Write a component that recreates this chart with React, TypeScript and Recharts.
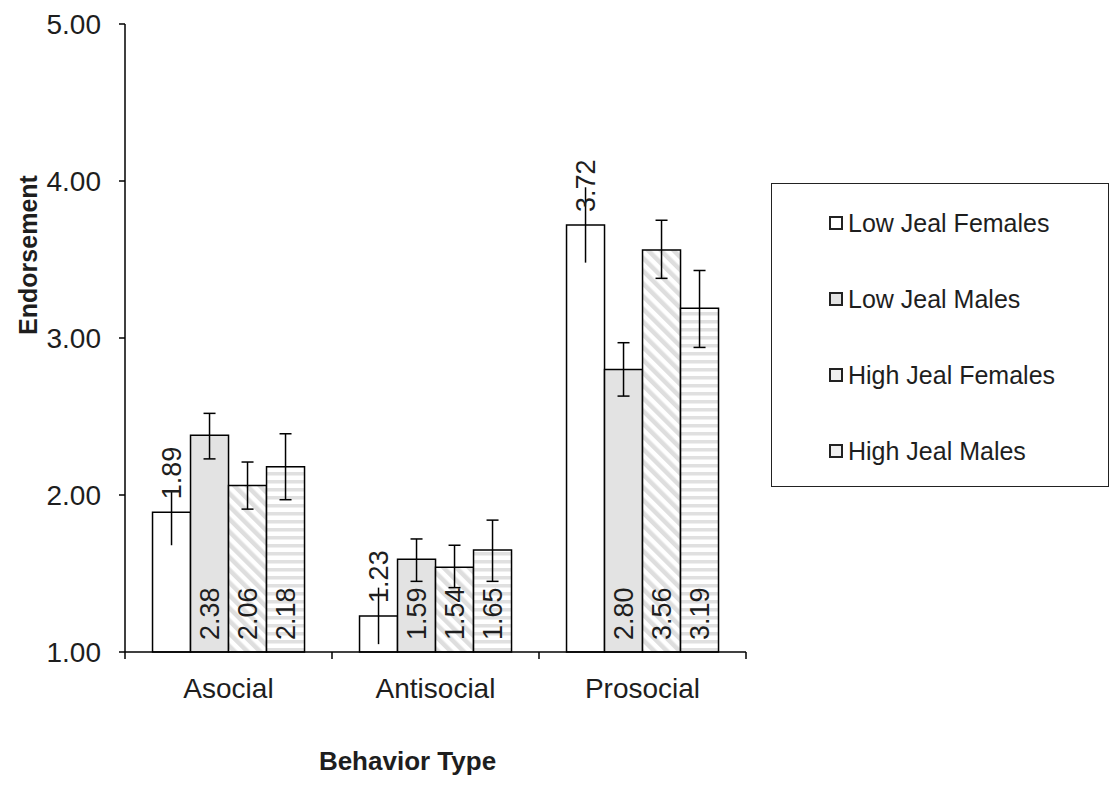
import { BarChart, Bar, XAxis, YAxis, ErrorBar, LabelList, Label } from "recharts";

const categories = ["Asocial", "Antisocial", "Prosocial"];
const seriesNames = ["Low Jeal Females", "Low Jeal Males", "High Jeal Females", "High Jeal Males"];

const lowJealFemales = [1.89, 1.23, 3.72];
const lowJealMales = [2.38, 1.59, 2.8];
const highJealFemales = [2.06, 1.54, 3.56];
const highJealMales = [2.18, 1.65, 3.19];

// [minus, plus]
const lowJealFemalesErr = [[0.21, 0.14], [0.18, 0.18], [0.24, 0.24]];
const lowJealMalesErr = [[0.15, 0.14], [0.14, 0.13], [0.17, 0.17]];
const highJealFemalesErr = [[0.15, 0.15], [0.13, 0.14], [0.18, 0.19]];
const highJealMalesErr = [[0.21, 0.21], [0.2, 0.19], [0.25, 0.24]];

const yTicks = [1, 2, 3, 4, 5];
// category boundaries (integers) and category centres (halves) on the position axis
const positionTicks = [0, 0.5, 1, 1.5, 2, 2.5, 3];

const keys = ["ljf", "ljm", "hjf", "hjm"];
const fills = ["#ffffff", "#e3e3e3", "url(#diag)", "url(#horiz)"];
const legendFills = ["#ffffff", "#e3e3e3", "#f0f0f0", "#f0f0f0"];

const data = categories.map((name, i) => ({
  name,
  pos: i + 0.5,
  ljf: lowJealFemales[i],
  ljm: lowJealMales[i],
  hjf: highJealFemales[i],
  hjm: highJealMales[i],
  ljfErr: lowJealFemalesErr[i],
  ljmErr: lowJealMalesErr[i],
  hjfErr: highJealFemalesErr[i],
  hjmErr: highJealMalesErr[i],
}));

const FONT = "'Liberation Sans', Arial, sans-serif";
const INK = "#1e1e1e";

function box(p: any) {
  const vb = p.viewBox && p.viewBox.width !== undefined ? p.viewBox : p;
  return { x: Number(vb.x), y: Number(vb.y), w: Number(vb.width), h: Number(vb.height) };
}

const OutsideEndLabel = (p: any) => {
  const { x, y, w } = box(p);
  const cx = x + w / 2;
  const y0 = y - 13;
  return (
    <text x={cx} y={y0} transform={`rotate(-90 ${cx} ${y0})`} textAnchor="start" dominantBaseline="central"
      fontSize={27} fontFamily={FONT} fill={INK}>
      {Number(p.value).toFixed(2)}
    </text>
  );
};

const InsideBaseLabel = (p: any) => {
  const { x, y, w, h } = box(p);
  const cx = x + w / 2;
  const y0 = y + h - 12;
  return (
    <text x={cx} y={y0} transform={`rotate(-90 ${cx} ${y0})`} textAnchor="start" dominantBaseline="central"
      fontSize={27} fontFamily={FONT} fill={INK}>
      {Number(p.value).toFixed(2)}
    </text>
  );
};

// integer positions get a tick mark, half positions get the category name
const PositionTick = (p: any) => {
  const v = Number(p.payload.value);
  if (Number.isInteger(v)) {
    return <line x1={p.x} y1={p.y} x2={p.x} y2={p.y + 7} stroke="#000" strokeWidth={1.5} />;
  }
  return (
    <text x={p.x} y={p.y + 26} dy="0.71em" textAnchor="middle" fontSize={28} fontFamily={FONT} fill={INK}>
      {categories[Math.floor(v)]}
    </text>
  );
};

export default function App() {
  return (
    <div style={{ position: "relative", width: 1103, height: 786 }}>
      <BarChart
        width={1103}
        height={786}
        data={data}
        margin={{ top: 16, right: 365, left: 0, bottom: 64 }}
        barCategoryGap="13.3%"
        barGap={0}
      >
        <defs>
          <pattern id="diag" width="9" height="9" patternUnits="userSpaceOnUse" patternTransform="rotate(-45)">
            <rect width="9" height="9" fill="#ffffff" />
            <rect width="4.5" height="9" fill="#dedede" />
          </pattern>
          <pattern id="horiz" width="8" height="8" patternUnits="userSpaceOnUse">
            <rect width="8" height="8" fill="#ffffff" />
            <rect width="8" height="3.5" fill="#e0e0e0" />
          </pattern>
        </defs>
        <XAxis dataKey="name" hide height={0} />
        <XAxis
          xAxisId="pos"
          dataKey="pos"
          type="number"
          domain={[0, 3]}
          allowDataOverflow
          ticks={positionTicks}
          interval={0}
          height={78}
          axisLine={{ stroke: "#000", strokeWidth: 1.5 }}
          tickLine={false}
          tickSize={0}
          tickMargin={0}
          tick={PositionTick}
        >
          <Label
            value="Behavior Type"
            position="insideBottom"
            offset={-40}
            dx={-28}
            style={{ fontSize: 26, fontWeight: "bold", fontFamily: FONT, fill: INK }}
          />
        </XAxis>
        <YAxis
          domain={[1, 5]}
          ticks={yTicks}
          interval={0}
          width={117}
          axisLine={{ stroke: "#000", strokeWidth: 1.5 }}
          tickLine={{ stroke: "#000", strokeWidth: 1.5 }}
          tickSize={6}
          tickMargin={18}
          tickFormatter={(v: number) => v.toFixed(2)}
          tick={{ fontSize: 28, fontFamily: FONT, fill: INK }}
        >
          <Label
            value="Endorsement"
            angle={-90}
            position="insideLeft"
            offset={20}
            dy={-83}
            style={{ textAnchor: "middle", fontSize: 25, fontWeight: "bold", fontFamily: FONT, fill: INK }}
          />
        </YAxis>
        {keys.map((k, i) => (
          <Bar
            key={k}
            dataKey={k}
            name={seriesNames[i]}
            fill={fills[i]}
            stroke="#000"
            strokeWidth={1.5}
            isAnimationActive={false}
          >
            <ErrorBar dataKey={`${k}Err`} width={i === 0 ? 0 : 6} stroke="#000" strokeWidth={1.5} direction="y" />
            <LabelList dataKey={k} content={i === 0 ? OutsideEndLabel : InsideBaseLabel} />
          </Bar>
        ))}
      </BarChart>
      <div
        style={{
          position: "absolute",
          left: 763,
          top: 175,
          width: 336,
          height: 302,
          border: "1.5px solid #222",
          background: "#fff",
          fontFamily: FONT,
          color: INK,
        }}
      >
        {seriesNames.map((s, i) => (
          <div
            key={s}
            style={{ position: "absolute", left: 57, top: 22 + i * 76, height: 34, display: "flex", alignItems: "center" }}
          >
            <span
              style={{
                display: "inline-block",
                width: 10,
                height: 10,
                border: "2px solid #222",
                background: legendFills[i],
                marginRight: 5,
              }}
            />
            <span style={{ fontSize: 25, whiteSpace: "nowrap" }}>{s}</span>
          </div>
        ))}
      </div>
    </div>
  );
}
